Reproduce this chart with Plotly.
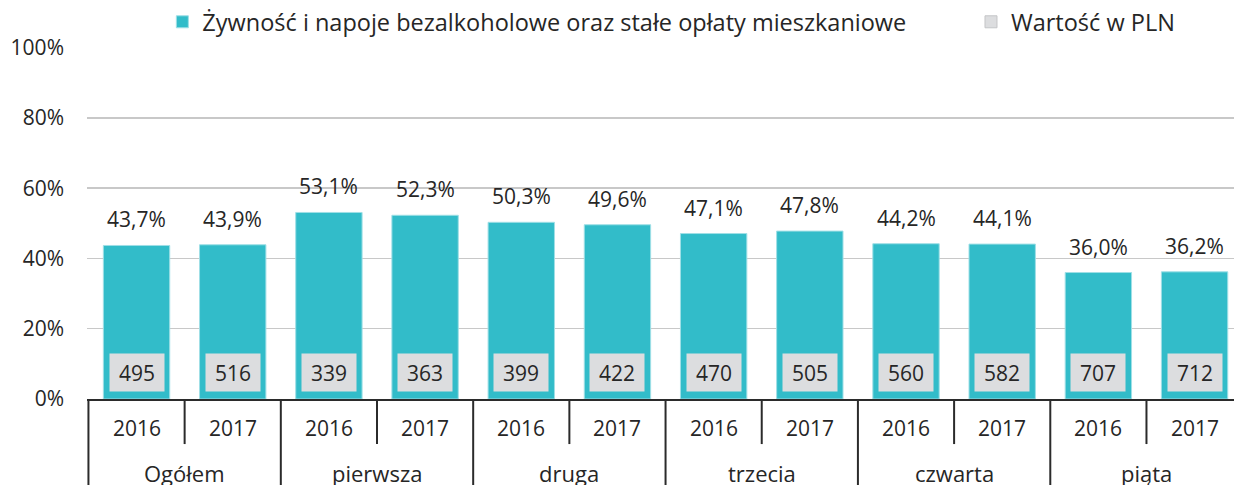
import plotly.graph_objects as go

groups = ["Ogółem", "pierwsza", "druga", "trzecia", "czwarta", "piąta"]
years = ["2016", "2017"]
share_pct = [43.7, 43.9, 53.1, 52.3, 50.3, 49.6, 47.1, 47.8, 44.2, 44.1, 36.0, 36.2]
value_pln = [495, 516, 339, 363, 399, 422, 470, 505, 560, 582, 707, 712]
series_names = ["Żywność i napoje bezalkoholowe oraz stałe opłaty mieszkaniowe", "Wartość w PLN"]
y_ticks = [0, 20, 40, 60, 80, 100]
y_tick_labels = [f"{v}%" for v in y_ticks]

TEAL = "#32bcc9"
GREY_BOX = "#dcdddf"
TXT = "#262626"
FONT = "Open Sans"
FS = 21

n = len(share_pct)
xs = list(range(n))
year_labels = [years[i % 2] for i in range(n)]

fig = go.Figure()
fig.add_trace(go.Bar(
    x=xs, y=share_pct, width=0.69, name=series_names[0],
    marker=dict(color=TEAL, line=dict(color="#9fdfe6", width=1)),
    hoverinfo="skip", legend="legend",
))
# legend-only entry for the PLN value labels
fig.add_trace(go.Bar(
    x=[None], y=[None], name=series_names[1],
    marker=dict(color=GREY_BOX, line=dict(color="#c4c5c7", width=1)),
    legend="legend2",
))

ann = []
for i in xs:
    ann.append(dict(x=i, y=share_pct[i], xref="x", yref="y", yanchor="bottom",
                    yshift=10, showarrow=False,
                    text=f"{share_pct[i]:.1f}%".replace(".", ","),
                    font=dict(family=FONT, size=FS, color=TXT)))
    ann.append(dict(x=i, y=7.5, xref="x", yref="y", showarrow=False,
                    text=str(value_pln[i]), bgcolor=GREY_BOX,
                    width=54, height=37, borderpad=0,
                    font=dict(family=FONT, size=FS, color=TXT)))
    ann.append(dict(x=i, y=-0.083, xref="x", yref="paper", showarrow=False,
                    text=year_labels[i], yanchor="middle",
                    font=dict(family=FONT, size=FS, color=TXT)))
for g, name in enumerate(groups):
    ann.append(dict(x=2 * g + 0.5, y=-0.21, xref="x", yref="paper", showarrow=False,
                    text=name, yanchor="middle",
                    font=dict(family=FONT, size=22, color=TXT)))

shapes = []
for g in range(len(groups)):
    shapes.append(dict(type="line", xref="x", yref="paper", x0=2 * g + 0.5, x1=2 * g + 0.5,
                       y0=0, y1=-0.128, line=dict(color="#2b2b2b", width=2)))
    shapes.append(dict(type="line", xref="x", yref="paper", x0=2 * g - 0.5, x1=2 * g - 0.5,
                       y0=0, y1=-0.3, line=dict(color="#2b2b2b", width=2)))

legend_common = dict(orientation="h", yanchor="middle", xanchor="left", y=1.071,
                     font=dict(family=FONT, size=23.5, color=TXT),
                     bgcolor="rgba(0,0,0,0)", itemclick=False, itemdoubleclick=False)

fig.update_layout(
    width=1234, height=485,
    margin=dict(l=87, r=0, t=47, b=86, autoexpand=False),
    paper_bgcolor="white", plot_bgcolor="white",
    barmode="overlay",
    font=dict(family=FONT, size=FS, color=TXT),
    showlegend=True,
    legend=dict(x=0.0657, **legend_common),
    legend2=dict(x=0.7707, **legend_common),
    xaxis=dict(range=[-0.515, 11.41], showgrid=False, zeroline=False,
               showticklabels=False, ticks="", showline=True,
               linecolor="#2b2b2b", linewidth=2, fixedrange=True),
    yaxis=dict(range=[0, 100.2], tickvals=y_ticks, ticktext=y_tick_labels,
               showgrid=True, gridcolor="#c8c8c8", gridwidth=1.5,
               zeroline=False, showline=False, ticks="",
               ticklabelstandoff=22,
               tickfont=dict(family=FONT, size=FS, color=TXT), fixedrange=True),
    annotations=ann, shapes=shapes,
)

fig.write_html("out.html", config={"displayModeBar": False, "staticPlot": True},
               post_script="document.body.style.margin='0';")
